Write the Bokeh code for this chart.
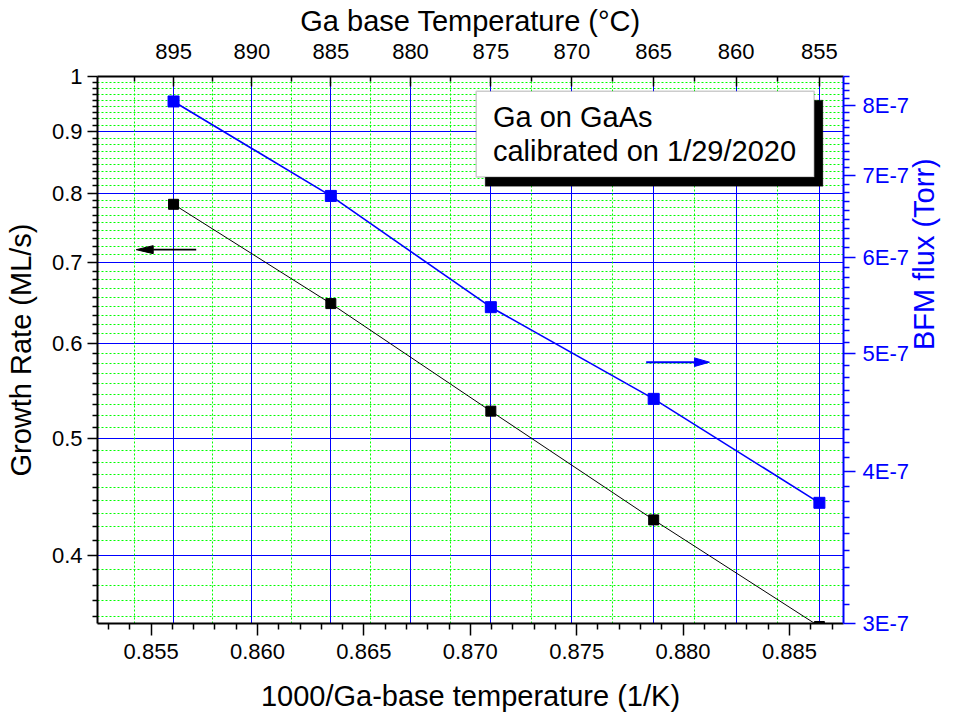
import math

from bokeh.plotting import figure
from bokeh.models import (Range1d, LogAxis, LinearAxis, FixedTicker, Grid,
                          CustomJSTickFormatter, PrintfTickFormatter,
                          BoxAnnotation, Label)
from bokeh.embed import file_html
from bokeh.resources import INLINE

# ---- Ga cell calibration data -------------------------------------------
inv_temp = [0.856054, 0.863446, 0.870966, 0.878619, 0.886407]   # 1000/T (1/K)
growth_rate = [0.783, 0.6475, 0.527, 0.428, 0.349]               # ML/s
bfm_flux = [8.06e-7, 6.74e-7, 5.46e-7, 4.59e-7, 3.77e-7]          # Torr

# ---- tick values -----------------------------------------------------------
x_ticks = [0.855, 0.860, 0.865, 0.870, 0.875, 0.880, 0.885]
gr_ticks = [0.4, 0.5, 0.6, 0.7, 0.8, 0.9, 1.0]
flux_ticks = [3e-7, 4e-7, 5e-7, 6e-7, 7e-7, 8e-7]
top_temps = [895, 890, 885, 880, 875, 870, 865, 860, 855]        # deg C
top_minor_temps = [897.5, 892.5, 887.5, 882.5, 877.5, 872.5, 867.5, 862.5, 857.5]

# ---- axis ranges / frame ---------------------------------------------------
X0, X1 = 0.85248, 0.88754
Y0, Y1 = 0.351, 1.0
F0, F1 = 3e-7, 8.45e-7
W, H = 958, 724
BL, BR, BT, BB = 97, 115, 76, 101
FRAME_W, FRAME_H = W - BL - BR, H - BT - BB

FONT = "Liberation Sans"
BLUE = "#0000ff"
GREEN = "#00ff00"
TICK_FONT = "22px"
TITLE_FONT = "29px"


def sub_ticks(majors, n=8):
    """n evenly spaced (linear) minor ticks inside each major interval."""
    out = []
    for a, b in zip(majors[:-1], majors[1:]):
        step = (b - a) / (n + 1)
        out += [a + k * step for k in range(1, n + 1)]
    return out


x_minor = [round(0.852 + 0.001 * k, 3) for k in range(0, 36)]
x_minor = [v for v in x_minor if X0 <= v <= X1 and round(v * 1000) % 5 != 0]
gr_minor = [v for v in sub_ticks([0.3] + gr_ticks) if Y0 <= v <= Y1]
flux_minor = [v for v in sub_ticks(flux_ticks + [9e-7]) if F0 <= v <= F1]
top_ticks = [1000.0 / (t + 273.15) for t in top_temps]
top_minor = [1000.0 / (t + 273.15) for t in top_minor_temps]

p = figure(width=W, height=H, x_range=Range1d(X0, X1), y_range=Range1d(Y0, Y1),
           y_axis_type="log", output_backend="svg", toolbar_location=None,
           min_border_left=BL, min_border_right=BR,
           min_border_top=BT, min_border_bottom=BB)
p.extra_y_ranges = {"flux": Range1d(F0, F1)}
p.outline_line_color = None
p.background_fill_color = "white"
p.border_fill_color = "white"

# data-units per screen pixel (arrow heads are sized in pixels)
dx_px = (X1 - X0) / FRAME_W
dec_gr = math.log10(Y1 / Y0) / FRAME_H
dec_fl = math.log10(F1 / F0) / FRAME_H


def style_axis(ax, color="black", tick_out=True, major=12, minor=6):
    ax.axis_line_color = color
    ax.axis_line_width = 2
    ax.major_tick_line_color = color
    ax.minor_tick_line_color = color
    ax.major_tick_line_width = 1.5
    ax.minor_tick_line_width = 1.5
    if tick_out:
        ax.major_tick_out, ax.major_tick_in = major, 0
        ax.minor_tick_out, ax.minor_tick_in = minor, 0
    else:
        ax.major_tick_out, ax.major_tick_in = 0, major
        ax.minor_tick_out, ax.minor_tick_in = 0, minor
    ax.major_label_text_font = FONT
    ax.major_label_text_font_size = TICK_FONT
    ax.major_label_text_color = color
    ax.axis_label_text_font = FONT
    ax.axis_label_text_font_size = TITLE_FONT
    ax.axis_label_text_font_style = "normal"
    ax.axis_label_text_color = color


# bottom axis: 1000/T
bx = p.xaxis[0]
bx.ticker = FixedTicker(ticks=x_ticks, minor_ticks=x_minor)
bx.formatter = PrintfTickFormatter(format="%.3f")
bx.axis_label = "1000/Ga-base temperature (1/K)"
style_axis(bx)
bx.major_label_standoff = 8
bx.axis_label_standoff = 18

# left axis: growth rate
ly = p.yaxis[0]
ly.ticker = FixedTicker(ticks=gr_ticks, minor_ticks=gr_minor)
ly.formatter = CustomJSTickFormatter(code="return String(Math.round(tick*10)/10);")
ly.axis_label = "Growth Rate (ML/s)"
style_axis(ly, major=10, minor=5)
ly.major_label_standoff = 5
ly.axis_label_standoff = 12

# right axis: BFM flux
ry = LogAxis(y_range_name="flux",
             ticker=FixedTicker(ticks=flux_ticks, minor_ticks=flux_minor),
             formatter=CustomJSTickFormatter(code="return Math.round(tick*1e7) + 'E-7';"),
             axis_label="BFM flux (Torr)")
style_axis(ry, color=BLUE)
ry.major_label_standoff = 7
ry.axis_label_standoff = 12
ry.axis_label_orientation = math.pi / 2
p.add_layout(ry, "right")

# top axis: cell temperature in deg C
top_ticker = FixedTicker(ticks=top_ticks, minor_ticks=top_minor)
tx = LinearAxis(ticker=top_ticker,
                formatter=CustomJSTickFormatter(
                    code="return Math.round(1000/tick - 273.15).toString();"),
                axis_label="Ga base Temperature (\u00b0C)")
style_axis(tx, tick_out=False, major=10, minor=5)
tx.major_label_standoff = 18
tx.axis_label_standoff = 4
p.add_layout(tx, "above")

# grids: horizontal from growth-rate axis, vertical from temperature axis
p.xgrid.grid_line_color = None
p.ygrid.grid_line_color = BLUE
p.ygrid.grid_line_width = 1
p.ygrid.minor_grid_line_color = GREEN
p.ygrid.minor_grid_line_dash = "2 2"
p.ygrid.minor_grid_line_width = 1
p.add_layout(Grid(dimension=0, ticker=top_ticker,
                  grid_line_color=BLUE, grid_line_width=1,
                  minor_grid_line_color=GREEN, minor_grid_line_dash="2 2",
                  minor_grid_line_width=1))

# data
p.line(inv_temp, growth_rate, line_color="black", line_width=1)
p.scatter(inv_temp, growth_rate, marker="square", size=10,
          fill_color="black", line_color="black")
p.line(inv_temp, bfm_flux, y_range_name="flux", line_color=BLUE, line_width=1.6)
p.scatter(inv_temp, bfm_flux, y_range_name="flux", marker="square", size=11,
          fill_color=BLUE, line_color=BLUE)


# axis-pointer arrows
def arrow(x_tail, x_tip, y, dec, color, head_len, head_half, width, **kw):
    sgn = 1 if x_tip > x_tail else -1
    base = x_tip - sgn * head_len * dx_px
    f = 10 ** (head_half * dec)
    p.segment(x0=[x_tail], y0=[y], x1=[base], y1=[y], line_color=color,
              line_width=width, **kw)
    p.patch([x_tip, base, base], [y, y * f, y / f], fill_color=color,
            line_color=color, line_width=1, **kw)


arrow(0.857119, 0.854299, 0.7179, dec_gr, "black", 17, 4, 1.8)
arrow(0.878267, 0.881242, 4.92e-7, dec_fl, BLUE, 15, 4.3, 2, y_range_name="flux")

# annotation box with drop shadow
p.add_layout(BoxAnnotation(left=0.870701, right=0.886571, top=0.95568, bottom=0.81048,
                           fill_color="black", fill_alpha=1, line_color="black"))
p.add_layout(BoxAnnotation(left=0.870278, right=0.886162, top=0.97228, bottom=0.82499,
                           fill_color="white", fill_alpha=1, line_color="#555555",
                           line_width=1.5))
for txt, yy in (("Ga on GaAs", 0.92460), ("calibrated on 1/29/2020", 0.86667)):
    p.add_layout(Label(x=0.871063, y=yy, text=txt, text_font=FONT,
                       text_font_size="29px", text_color="black",
                       text_align="left", text_baseline="middle"))

open("out.html", "w").write(file_html(p, INLINE))
